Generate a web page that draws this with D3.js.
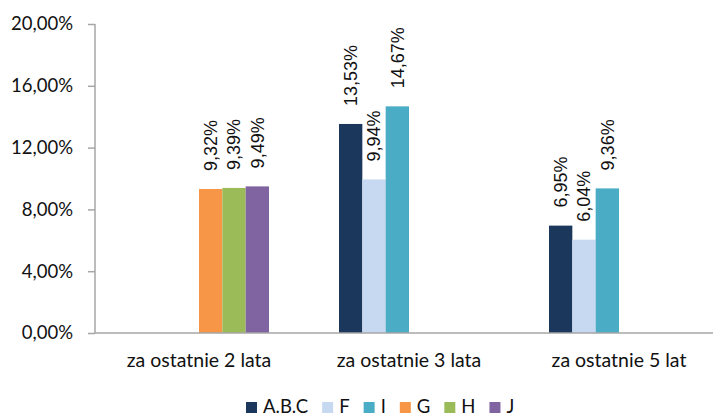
<!DOCTYPE html>
<html>
<head>
<meta charset="utf-8">
<script src="https://cdn.jsdelivr.net/npm/d3@7"></script>
<style>
  body { margin: 0; background: #fff; }
  svg { display: block; }
</style>
</head>
<body>
<div id="chart"></div>
<script>
var categories = ["za ostatnie 2 lata", "za ostatnie 3 lata", "za ostatnie 5 lat"];
var seriesNames = ["A.B.C", "F", "I", "G", "H", "J"];
var abc = [null, 13.53, 6.95];
var f = [null, 9.94, 6.04];
var i_ = [null, 14.67, 9.36];
var g = [9.32, null, null];
var h = [9.39, null, null];
var j = [9.49, null, null];
var yTicks = [0, 4, 8, 12, 16, 20];
var colors = ["#1c375c", "#c6d9f1", "#4bacc6", "#f79646", "#9bbb59", "#8064a2"];

var values = [abc, f, i_, g, h, j];

var width = 713, height = 416;
var svg = d3.select("#chart").append("svg").attr("width", width).attr("height", height);

var fmt = function(v) { return v.toFixed(2).replace(".", ",") + "%"; };

var y = d3.scaleLinear().domain([0, 20]).range([333, 24]);
// bands are 210px wide, last one runs past the right edge like the original
var x0 = d3.scaleBand().domain(categories).range([94, 94 + 3 * 210]);
var x1 = d3.scaleBand().domain(seriesNames).range([35, 175]);

// y axis
var yAxis = svg.append("g").attr("transform", "translate(95,0)")
    .call(d3.axisLeft(y).tickValues(yTicks).tickSize(7).tickPadding(15).tickFormat(fmt));
yAxis.select(".domain").attr("stroke", "#a6a6a6").attr("stroke-width", 1.5).attr("d", "M0,24V333");
yAxis.selectAll(".tick line").attr("stroke", "#a6a6a6").attr("stroke-width", 1.5);
yAxis.selectAll(".tick text").attr("fill", "#111").style("font-family", "Lato").style("font-size", "18.5px");

// bars
var groups = svg.selectAll(".grp").data(categories).enter().append("g")
    .attr("transform", function(d) { return "translate(" + x0(d) + ",0)"; });

groups.each(function(cat, ci) {
  var gsel = d3.select(this);
  var rows = seriesNames.map(function(s, si) { return { s: s, si: si, v: values[si][ci] }; })
    .filter(function(r) { return r.v != null; });

  gsel.selectAll("rect").data(rows).enter().append("rect")
    .attr("x", function(d) { return x1(d.s); })
    .attr("y", function(d) { return y(d.v); })
    .attr("width", x1.bandwidth())
    .attr("height", function(d) { return y(0) - y(d.v); })
    .attr("fill", function(d) { return colors[d.si]; });

  gsel.selectAll("text").data(rows).enter().append("text")
    .attr("transform", function(d) {
      return "translate(" + (x1(d.s) + x1.bandwidth() / 2) + "," + (y(d.v) - 18) + ") rotate(-90)";
    })
    .attr("dy", "0.35em")
    .attr("fill", "#111")
    .style("font-family", "Liberation Sans, Arial")
    .style("font-size", "18px")
    .text(function(d) { return fmt(d.v); });
});

// x axis baseline
svg.append("line").attr("x1", 95).attr("x2", width).attr("y1", 333).attr("y2", 333)
  .attr("stroke", "#a6a6a6").attr("stroke-width", 1.5);

svg.selectAll(".cat").data(categories).enter().append("text")
  .attr("x", function(d) { return x0(d) + x0.bandwidth() / 2; })
  .attr("y", 367)
  .attr("text-anchor", "middle")
  .attr("fill", "#111")
  .style("font-family", "Lato")
  .style("font-size", "19.5px")
  .text(function(d) { return d; });

// legend
var legend = svg.append("g");
var lx = 246;
seriesNames.forEach(function(s, si) {
  legend.append("rect").attr("x", lx).attr("y", 402).attr("width", 11).attr("height", 11).attr("fill", colors[si]);
  var t = legend.append("text").attr("x", lx + 17).attr("y", 413)
    .attr("fill", "#111").style("font-family", "Lato").style("font-size", "18.5px").text(s);
  lx += 17 + t.node().getComputedTextLength() + 14;
});
</script>
</body>
</html>
